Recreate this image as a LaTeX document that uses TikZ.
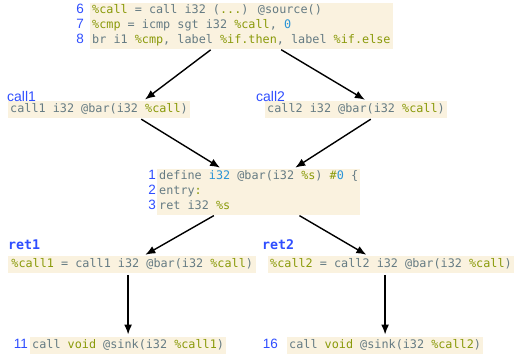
\documentclass[tikz,border=0pt]{standalone}
\usepackage{fontspec}
\setmainfont{Liberation Sans}
\newfontfamily\codefont{DejaVu Sans Mono}
\usetikzlibrary{positioning,arrows.meta}

\definecolor{codebg}{HTML}{FAF2DF}
\definecolor{codegray}{HTML}{657B83}
\definecolor{codevar}{HTML}{8A9A0A}
\definecolor{codeblue}{HTML}{2A94D6}
\definecolor{lineblue}{HTML}{2F4EFF}
\newcommand{\cvar}[1]{\textcolor{codevar}{#1}}
\newcommand{\cblue}[1]{\textcolor{codeblue}{#1}}

\begin{document}
\begin{tikzpicture}[x=1pt, y=-1pt,
codebox/.style={fill=codebg, text=codegray, font=\codefont\fontsize{11.8}{15}\selectfont, align=left, anchor=north west, inner xsep=2pt, inner ysep=1pt, execute at begin node=\strut, execute at end node=\strut},
linenum/.style={text=lineblue, font=\fontsize{13.5}{15}\selectfont, align=right, anchor=north east, inner xsep=0pt, inner ysep=1pt, execute at begin node=\strut, execute at end node=\strut},
calllabel/.style={text=lineblue, font=\fontsize{14}{16}\selectfont, anchor=base west, inner sep=0pt},
retlabel/.style={text=lineblue, font=\codefont\bfseries\fontsize{13.3}{16}\selectfont, anchor=base west, inner sep=0pt},
flow/.style={-{Latex[length=10pt,width=8pt]}, line width=1.4pt, shorten <=1.5pt, shorten >=2.5pt}]
\useasboundingbox (0,0) rectangle (514,354);

\node[codebox](top) at (90, 3){\cvar{\%call} = call i32 (\cvar{...}) @source()\\
\cvar{\%cmp} = icmp sgt i32 \cvar{\%call}, \cblue{0}\\
br i1 \cvar{\%cmp}, label \cvar{\%if.then}, label \cvar{\%if.else}};
\node[linenum](topnum) at ([xshift=-6pt]top.north west){6\\7\\8};

\node[codebox](call1) at (8, 101){call1 i32 @bar(i32 \cvar{\%call})};
\node[calllabel](call1lbl) at ([xshift=-1pt]call1.north west){call1};
\node[codebox](call2) at (265, 101){call2 i32 @bar(i32 \cvar{\%call})};
\node[calllabel](call2lbl) at ([xshift=-9pt]call2.north west){call2};

\node[codebox](bar) at (157, 169){define \cblue{i32} @bar(i32 \cvar{\%s}) \cvar{\#}\cblue{0} \{\\
entry\cvar{:}\\
ret i32 \cvar{\%s}};
\node[linenum](barnum) at ([xshift=-1pt]bar.north west){1\\2\\3};

\node[codebox, minimum width=248pt](ret1) at (8, 256){\cvar{\%call1} = call1 i32 @bar(i32 \cvar{\%call})};
\node[retlabel](ret1lbl) at ([yshift=7pt]ret1.north west){ret1};
\node[codebox](ret2) at (268, 256){\cvar{\%call2} = call2 i32 @bar(i32 \cvar{\%call})};
\node[retlabel](ret2lbl) at ([xshift=-6pt, yshift=7pt]ret2.north west){ret2};

\node[codebox](sink1) at (30, 337){call \cvar{void} @sink(i32 \cvar{\%call1})};
\node[linenum](sink1num) at ([xshift=-2pt]sink1.north west){11};
\node[codebox](sink2) at (287, 337){call \cvar{void} @sink(i32 \cvar{\%call2})};
\node[linenum](sink2num) at ([xshift=-9pt]sink2.north west){16};

\draw[flow]([xshift=-29.5pt]top.south) -- ([xshift=44pt]call1.north);
\draw[flow]([xshift=38.5pt]top.south) -- ([xshift=11pt]call2.north);
\draw[flow]([xshift=41pt]call1.south) -- ([xshift=-36.5pt]bar.north);
\draw[flow]([xshift=16pt]call2.south) -- ([xshift=34.5pt]bar.north);
\draw[flow]([xshift=-43.5pt]bar.south) -- ([xshift=11pt]ret1.north);
\draw[flow]([xshift=39.5pt]bar.south) -- ([xshift=-22.5pt]ret2.north);
\draw[flow](ret1.south -| sink1.north) -- (sink1.north);
\draw[flow](ret2.south -| sink2.north) -- (sink2.north);

\end{tikzpicture}
\end{document}
